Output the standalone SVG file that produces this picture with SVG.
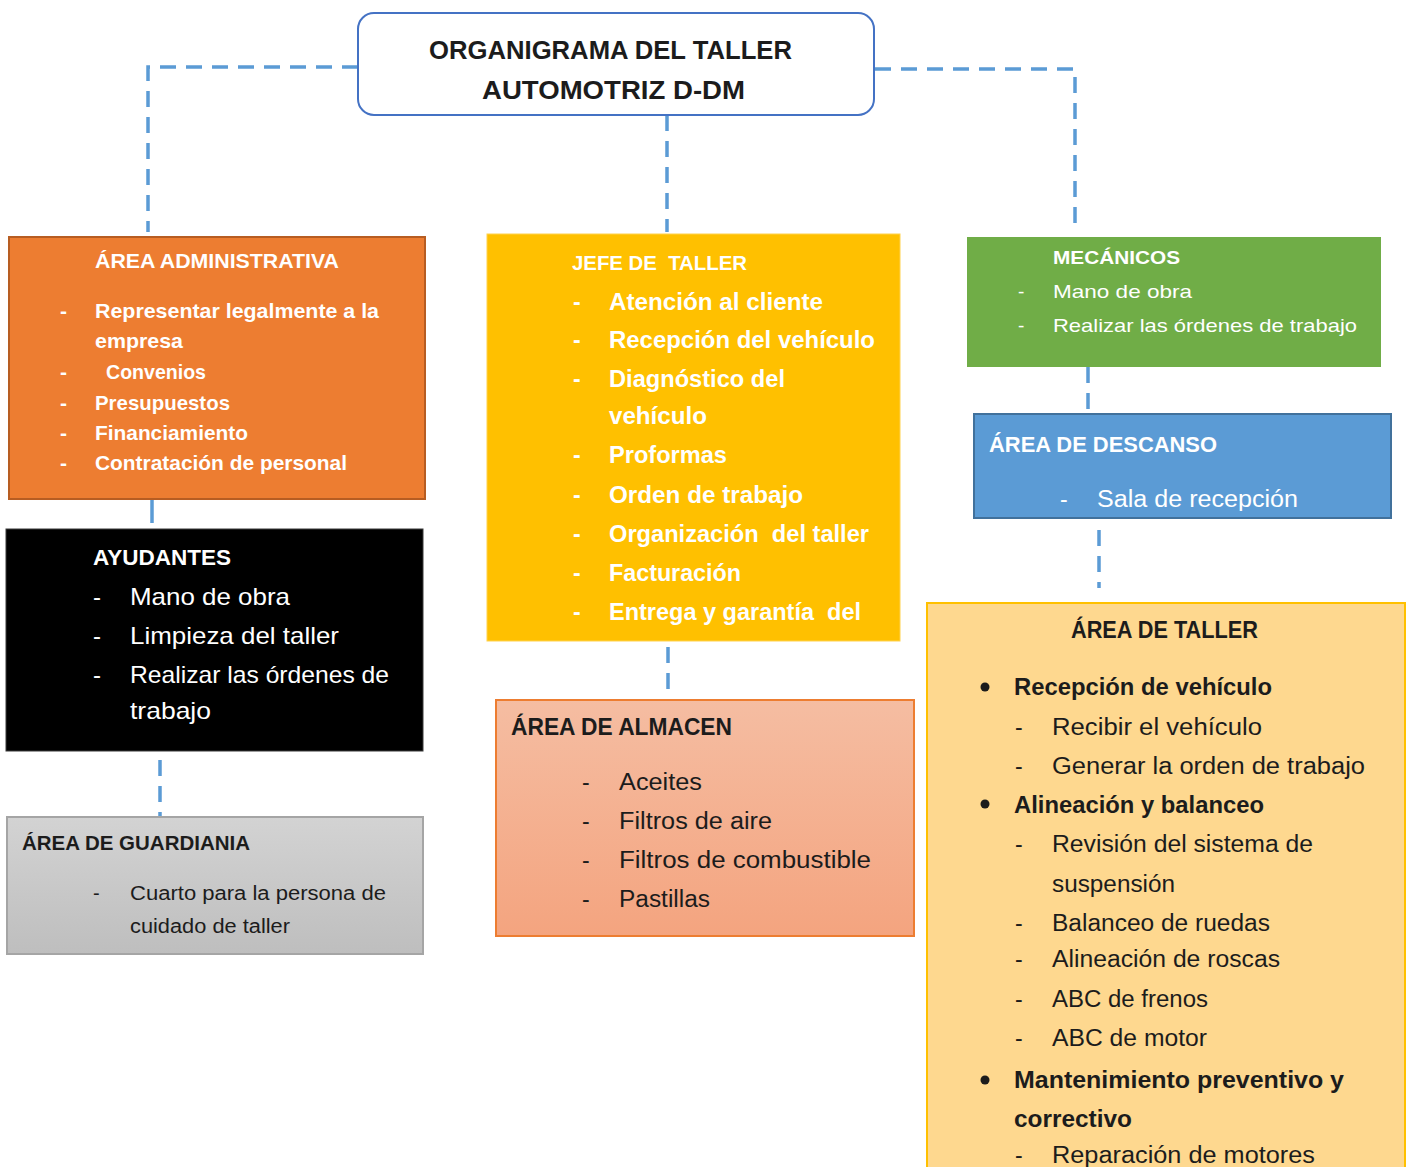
<svg xmlns="http://www.w3.org/2000/svg" width="1411" height="1167" viewBox="0 0 1411 1167">
<defs>
<style>
text{font-family:"Liberation Sans",Arial,sans-serif;}
.w{fill:#ffffff;}
.d{fill:#1c1c1c;}
.b{font-weight:bold;}
.conn{fill:none;stroke:#5B9BD5;stroke-width:3.5;stroke-dasharray:16 10;}
</style>
<linearGradient id="gAlm" x1="0" y1="0" x2="0" y2="1">
<stop offset="0" stop-color="#F5BDA2"/>
<stop offset="1" stop-color="#F4A47F"/>
</linearGradient>
<linearGradient id="gGua" x1="0" y1="0" x2="0" y2="1">
<stop offset="0" stop-color="#D3D3D3"/>
<stop offset="1" stop-color="#BEBEBE"/>
</linearGradient>
<clipPath id="cDesc"><rect x="974" y="414" width="417" height="97"/></clipPath>
</defs>
<rect width="1411" height="1167" fill="#ffffff"/>

<g id="connectors">
<path class="conn" d="M358,67 H148 V232"/>
<path class="conn" d="M667,115 V232"/>
<path class="conn" d="M875,69 H1075 V230"/>
<path d="M152,500 V523" stroke="#5B9BD5" stroke-width="3.5" fill="none"/>
<path class="conn" d="M160,760 V817" stroke-dasharray="22 15"/>
<path class="conn" d="M668,647 V700" stroke-dasharray="17 16"/>
<path class="conn" d="M1088,367 V410" stroke-dasharray="8 15 20 10"/>
<path class="conn" d="M1099,530 V588" stroke-dasharray="21 16"/>
</g>

<g id="title">
<rect x="358" y="13" width="516" height="102" rx="16" ry="16" fill="#ffffff" stroke="#4472C4" stroke-width="2"/>
<text x="429" y="59" font-size="25" class="d b" textLength="363" lengthAdjust="spacingAndGlyphs">ORGANIGRAMA DEL TALLER</text>
<text x="482" y="99" font-size="25" class="d b" textLength="263" lengthAdjust="spacingAndGlyphs">AUTOMOTRIZ D-DM</text>
</g>

<g id="area-administrativa">
<rect x="9" y="237" width="416" height="262" fill="#ED7D31" stroke="#B75D22" stroke-width="2"/>
<g class="w b" font-size="21">
<text x="95" y="268" textLength="244" lengthAdjust="spacingAndGlyphs">ÁREA ADMINISTRATIVA</text>
<text x="60" y="318">-</text>
<text x="95" y="318" textLength="284" lengthAdjust="spacingAndGlyphs">Representar legalmente a la</text>
<text x="95" y="348" textLength="88" lengthAdjust="spacingAndGlyphs">empresa</text>
<text x="60" y="379">-</text>
<text x="106" y="379" textLength="100" lengthAdjust="spacingAndGlyphs">Convenios</text>
<text x="60" y="410">-</text>
<text x="95" y="410" textLength="135" lengthAdjust="spacingAndGlyphs">Presupuestos</text>
<text x="60" y="440">-</text>
<text x="95" y="440" textLength="153" lengthAdjust="spacingAndGlyphs">Financiamiento</text>
<text x="60" y="470">-</text>
<text x="95" y="470" textLength="252" lengthAdjust="spacingAndGlyphs">Contratación de personal</text>
</g>
</g>

<g id="jefe-de-taller">
<rect x="487" y="234" width="413" height="407" fill="#FFC000" stroke="#FFD24D" stroke-width="1"/>
<g class="w b" font-size="23">
<text x="572" y="270" font-size="21" textLength="175" lengthAdjust="spacingAndGlyphs" xml:space="preserve">JEFE DE  TALLER</text>
<text x="573" y="310">-</text>
<text x="609" y="310" textLength="214" lengthAdjust="spacingAndGlyphs">Atención al cliente</text>
<text x="573" y="348">-</text>
<text x="609" y="348" textLength="266" lengthAdjust="spacingAndGlyphs">Recepción del vehículo</text>
<text x="573" y="387">-</text>
<text x="609" y="387" textLength="176" lengthAdjust="spacingAndGlyphs">Diagnóstico del</text>
<text x="609" y="424" textLength="98" lengthAdjust="spacingAndGlyphs">vehículo</text>
<text x="573" y="463">-</text>
<text x="609" y="463" textLength="118" lengthAdjust="spacingAndGlyphs">Proformas</text>
<text x="573" y="503">-</text>
<text x="609" y="503" textLength="194" lengthAdjust="spacingAndGlyphs">Orden de trabajo</text>
<text x="573" y="542">-</text>
<text x="609" y="542" textLength="260" lengthAdjust="spacingAndGlyphs" xml:space="preserve">Organización  del taller</text>
<text x="573" y="581">-</text>
<text x="609" y="581" textLength="132" lengthAdjust="spacingAndGlyphs">Facturación</text>
<text x="573" y="620">-</text>
<text x="609" y="620" textLength="252" lengthAdjust="spacingAndGlyphs" xml:space="preserve">Entrega y garantía  del</text>
</g>
</g>

<g id="mecanicos">
<rect x="967" y="237" width="414" height="130" fill="#70AD47"/>
<g class="w" font-size="19">
<text x="1053" y="264" class="b" textLength="127" lengthAdjust="spacingAndGlyphs">MECÁNICOS</text>
<text x="1018" y="298">-</text>
<text x="1053" y="298" textLength="139" lengthAdjust="spacingAndGlyphs">Mano de obra</text>
<text x="1018" y="332">-</text>
<text x="1053" y="332" textLength="304" lengthAdjust="spacingAndGlyphs">Realizar las órdenes de trabajo</text>
</g>
</g>

<g id="area-de-descanso">
<rect x="974" y="414" width="417" height="104" fill="#5B9BD5" stroke="#41719C" stroke-width="2"/>
<g class="w" font-size="23" clip-path="url(#cDesc)">
<text x="989" y="452" class="b" font-size="22" textLength="228" lengthAdjust="spacingAndGlyphs">ÁREA DE DESCANSO</text>
<text x="1060" y="507">-</text>
<text x="1097" y="507" textLength="201" lengthAdjust="spacingAndGlyphs">Sala de recepción</text>
</g>
</g>

<g id="ayudantes">
<rect x="6" y="529" width="417" height="222" fill="#000000" stroke="#3a3a3a" stroke-width="1"/>
<g class="w" font-size="24">
<text x="93" y="565" class="b" font-size="22" textLength="138" lengthAdjust="spacingAndGlyphs">AYUDANTES</text>
<text x="93" y="605">-</text>
<text x="130" y="605" textLength="160" lengthAdjust="spacingAndGlyphs">Mano de obra</text>
<text x="93" y="644">-</text>
<text x="130" y="644" textLength="209" lengthAdjust="spacingAndGlyphs">Limpieza del taller</text>
<text x="93" y="683">-</text>
<text x="130" y="683" textLength="259" lengthAdjust="spacingAndGlyphs">Realizar las órdenes de</text>
<text x="130" y="719" textLength="81" lengthAdjust="spacingAndGlyphs">trabajo</text>
</g>
</g>

<g id="area-de-guardiania">
<rect x="7" y="817" width="416" height="137" fill="url(#gGua)" stroke="#A5A5A5" stroke-width="2"/>
<g class="d" font-size="20">
<text x="22" y="850" class="b" textLength="228" lengthAdjust="spacingAndGlyphs">ÁREA DE GUARDIANIA</text>
<text x="93" y="900">-</text>
<text x="130" y="900" textLength="256" lengthAdjust="spacingAndGlyphs">Cuarto para la persona de</text>
<text x="130" y="933" textLength="160" lengthAdjust="spacingAndGlyphs">cuidado de taller</text>
</g>
</g>

<g id="area-de-almacen">
<rect x="496" y="700" width="418" height="236" fill="url(#gAlm)" stroke="#ED7D31" stroke-width="2"/>
<g class="d" font-size="23">
<text x="511" y="735" class="b" textLength="221" lengthAdjust="spacingAndGlyphs">ÁREA DE ALMACEN</text>
<text x="582" y="790">-</text>
<text x="619" y="790" textLength="83" lengthAdjust="spacingAndGlyphs">Aceites</text>
<text x="582" y="829">-</text>
<text x="619" y="829" textLength="153" lengthAdjust="spacingAndGlyphs">Filtros de aire</text>
<text x="582" y="868">-</text>
<text x="619" y="868" textLength="252" lengthAdjust="spacingAndGlyphs">Filtros de combustible</text>
<text x="582" y="907">-</text>
<text x="619" y="907" textLength="91" lengthAdjust="spacingAndGlyphs">Pastillas</text>
</g>
</g>

<g id="area-de-taller">
<rect x="927" y="603" width="478" height="600" fill="#FED88F" stroke="#FFC000" stroke-width="2"/>
<g fill="#1c1c1c">
<circle cx="985" cy="687" r="4.5"/>
<circle cx="985" cy="804" r="4.5"/>
<circle cx="985" cy="1080" r="4.5"/>
</g>
<g class="d" font-size="23">
<text x="1071" y="638" class="b" textLength="187" lengthAdjust="spacingAndGlyphs">ÁREA DE TALLER</text>
<text x="1014" y="695" class="b" textLength="258" lengthAdjust="spacingAndGlyphs">Recepción de vehículo</text>
<text x="1015" y="735">-</text>
<text x="1052" y="735" textLength="210" lengthAdjust="spacingAndGlyphs">Recibir el vehículo</text>
<text x="1015" y="774">-</text>
<text x="1052" y="774" textLength="313" lengthAdjust="spacingAndGlyphs">Generar la orden de trabajo</text>
<text x="1014" y="813" class="b" textLength="250" lengthAdjust="spacingAndGlyphs">Alineación y balanceo</text>
<text x="1015" y="852">-</text>
<text x="1052" y="852" textLength="261" lengthAdjust="spacingAndGlyphs">Revisión del sistema de</text>
<text x="1052" y="892" textLength="123" lengthAdjust="spacingAndGlyphs">suspensión</text>
<text x="1015" y="931">-</text>
<text x="1052" y="931" textLength="218" lengthAdjust="spacingAndGlyphs">Balanceo de ruedas</text>
<text x="1015" y="967">-</text>
<text x="1052" y="967" textLength="228" lengthAdjust="spacingAndGlyphs">Alineación de roscas</text>
<text x="1015" y="1007">-</text>
<text x="1052" y="1007" textLength="156" lengthAdjust="spacingAndGlyphs">ABC de frenos</text>
<text x="1015" y="1046">-</text>
<text x="1052" y="1046" textLength="155" lengthAdjust="spacingAndGlyphs">ABC de motor</text>
<text x="1014" y="1088" class="b" textLength="330" lengthAdjust="spacingAndGlyphs">Mantenimiento preventivo y</text>
<text x="1014" y="1127" class="b" textLength="118" lengthAdjust="spacingAndGlyphs">correctivo</text>
<text x="1015" y="1163">-</text>
<text x="1052" y="1163" textLength="263" lengthAdjust="spacingAndGlyphs">Reparación de motores</text>
</g>
</g>
</svg>
